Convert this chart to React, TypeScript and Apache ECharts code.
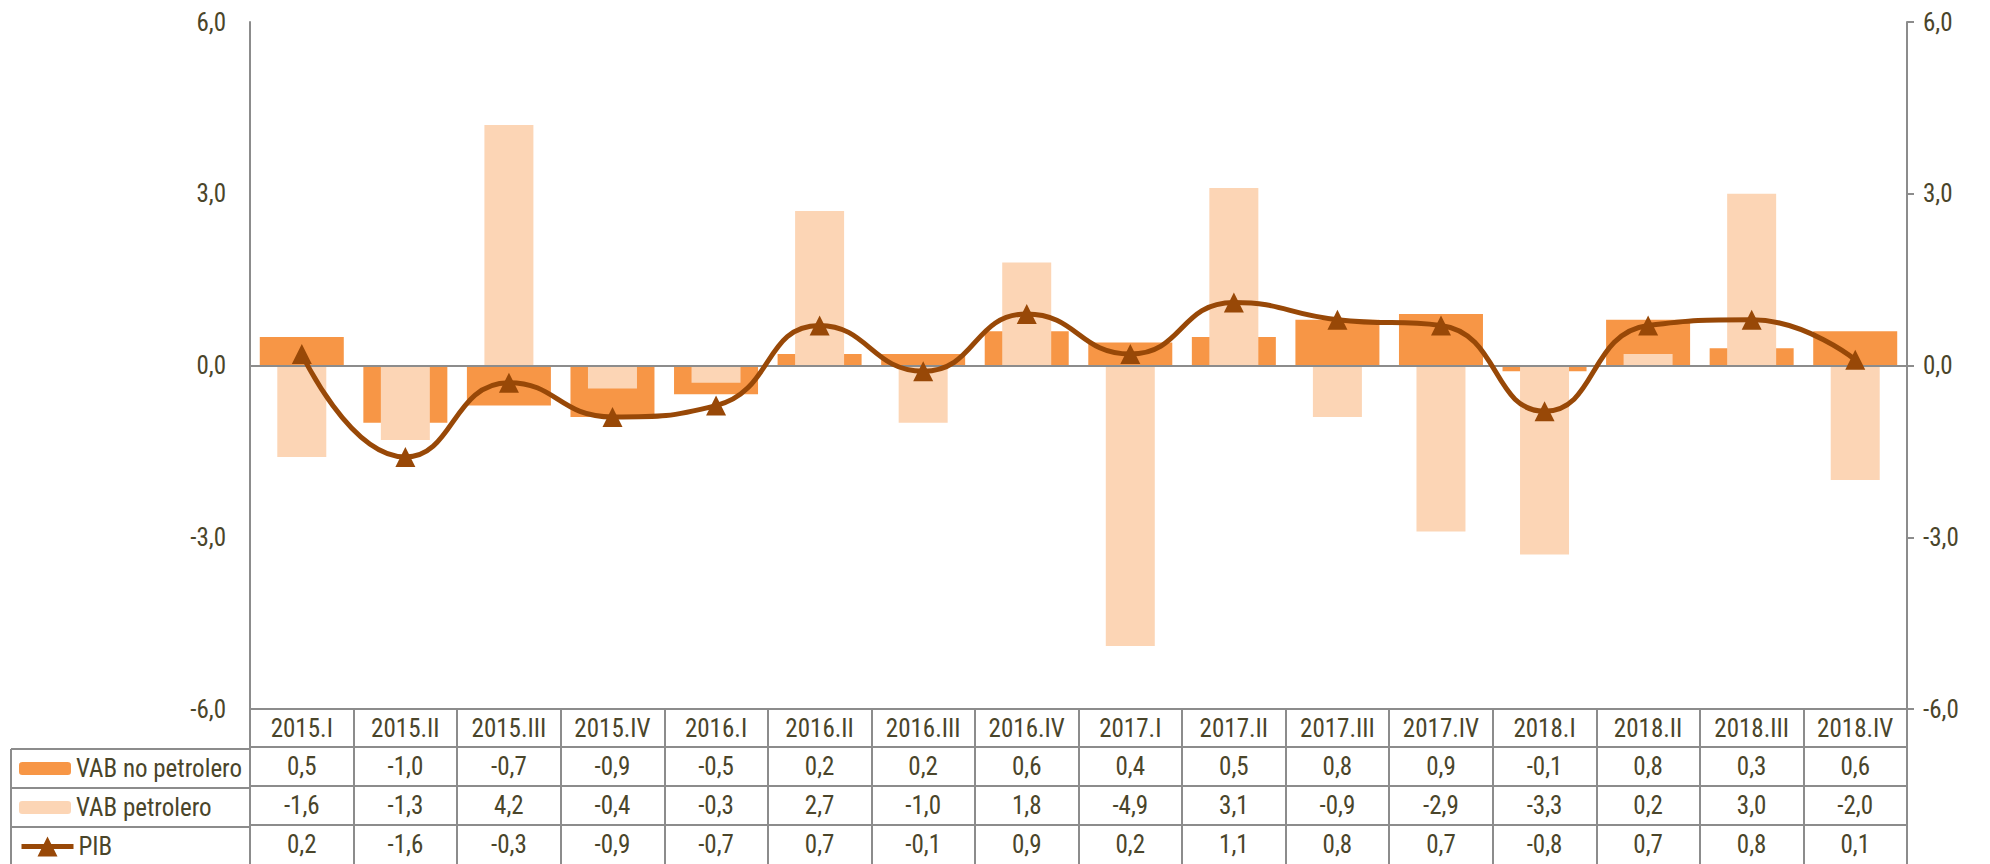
import React, { useEffect, useRef } from "react";
import * as echarts from "echarts";

const categories = [
  "2015.I", "2015.II", "2015.III", "2015.IV",
  "2016.I", "2016.II", "2016.III", "2016.IV",
  "2017.I", "2017.II", "2017.III", "2017.IV",
  "2018.I", "2018.II", "2018.III", "2018.IV",
];
const vabNoPetrolero = [0.5, -1.0, -0.7, -0.9, -0.5, 0.2, 0.2, 0.6, 0.4, 0.5, 0.8, 0.9, -0.1, 0.8, 0.3, 0.6];
const vabPetrolero = [-1.6, -1.3, 4.2, -0.4, -0.3, 2.7, -1.0, 1.8, -4.9, 3.1, -0.9, -2.9, -3.3, 0.2, 3.0, -2.0];
const pib = [0.2, -1.6, -0.3, -0.9, -0.7, 0.7, -0.1, 0.9, 0.2, 1.1, 0.8, 0.7, -0.8, 0.7, 0.8, 0.1];
const seriesNames = ["VAB no petrolero", "VAB petrolero", "PIB"];
const yTicks = { min: -6, max: 6, interval: 3 };

const W = 1990;
const H = 864;
const GRID_LEFT = 250;
const GRID_RIGHT = 83;
const GRID_TOP = 22;
const GRID_BOTTOM = 153;
const HEADER_H = 38;
const ROW_H = 39;
const TABLE_LEFT = 11;
const FONT = "'Liberation Sans Narrow', 'Arial Narrow', 'Roboto Condensed', 'Liberation Sans', sans-serif";
const TEXT = "#4A452A";
const GRAY = "#8c8c8c";
const C_DARK = "#F79646";
const C_LIGHT = "#FCD5B5";
const C_LINE = "#984807";
const FS = 25;

const fmt = (v: number) => v.toFixed(1).replace(".", ",");

export default function App() {
  const ref = useRef<HTMLDivElement>(null);
  useEffect(() => {
    if (!ref.current) return;
    const chart = echarts.init(ref.current, undefined, { renderer: "svg" });
    const plotBottom = H - GRID_BOTTOM;
    const rowTop = (r: number) => (r === 0 ? plotBottom : plotBottom + HEADER_H + ROW_H * (r - 1));

    const tableAxis = (data: string[], r: number) => {
      const h = r === 0 ? HEADER_H : ROW_H;
      return {
        type: "category",
        gridIndex: 0,
        position: "bottom",
        offset: rowTop(r) - plotBottom,
        data,
        boundaryGap: true,
        axisLine: { show: true, onZero: false, lineStyle: { color: GRAY, width: 2 } },
        axisTick: { show: true, length: h, interval: 0, alignWithLabel: false, lineStyle: { color: GRAY, width: 2 } },
        axisLabel: {
          show: true, interval: 0, margin: 0, color: TEXT, fontFamily: FONT, fontSize: FS,
          lineHeight: h, verticalAlign: "top",
        },
        splitLine: { show: false },
      };
    };

    const legendRow = (name: string, r: number, itemHeight: number, extra: any = {}) => ({
      orient: "horizontal",
      left: TABLE_LEFT + 8,
      top: rowTop(r),
      padding: 0,
      data: [name],
      itemWidth: 52,
      itemHeight,
      itemGap: 0,
      selectedMode: false,
      textStyle: { color: TEXT, fontFamily: FONT, fontSize: FS, lineHeight: ROW_H },
      ...extra,
    });

    const lines: any[] = [];
    for (let r = 1; r <= 3; r++) {
      const y = rowTop(r);
      lines.push({
        type: "line",
        shape: { x1: TABLE_LEFT, y1: y, x2: GRID_LEFT, y2: y },
        style: { stroke: GRAY, lineWidth: 2 },
      });
    }
    lines.push({
      type: "line",
      shape: { x1: TABLE_LEFT, y1: rowTop(1), x2: TABLE_LEFT, y2: H },
      style: { stroke: GRAY, lineWidth: 2 },
    });

    const yAxisBase = {
      type: "value",
      min: yTicks.min,
      max: yTicks.max,
      interval: yTicks.interval,
      splitLine: { show: false },
      axisLine: { show: true, lineStyle: { color: GRAY, width: 2 } },
      axisLabel: { color: TEXT, fontFamily: FONT, fontSize: FS, formatter: (v: number) => fmt(v) },
    };

    chart.setOption({
      animation: false,
      backgroundColor: "#ffffff",
      grid: { left: GRID_LEFT, right: GRID_RIGHT, top: GRID_TOP, bottom: GRID_BOTTOM, containLabel: false },
      legend: [
        legendRow(seriesNames[0], 1, 13),
        legendRow(seriesNames[1], 2, 13),
        legendRow(seriesNames[2], 3, 25, { lineStyle: { width: 5, color: C_LINE } }),
      ],
      xAxis: [
        {
          type: "category",
          data: categories,
          position: "bottom",
          z: 3,
          axisLine: { show: true, onZero: true, onZeroAxisIndex: 0, lineStyle: { color: GRAY, width: 2 } },
          axisTick: { show: false },
          axisLabel: { show: false },
        },
        {
          type: "category",
          data: categories,
          show: false,
        },
        tableAxis(categories, 0),
        tableAxis(vabNoPetrolero.map(fmt), 1),
        tableAxis(vabPetrolero.map(fmt), 2),
        tableAxis(pib.map(fmt), 3),
      ],
      yAxis: [
        { ...yAxisBase, position: "left", axisTick: { show: false }, axisLabel: { ...yAxisBase.axisLabel, margin: 24 } },
        {
          ...yAxisBase,
          position: "right",
          axisTick: { show: true, length: 7, lineStyle: { color: GRAY, width: 2 } },
          axisLabel: { ...yAxisBase.axisLabel, margin: 16 },
        },
      ],
      series: [
        {
          name: seriesNames[0],
          type: "bar",
          xAxisIndex: 0,
          yAxisIndex: 0,
          data: vabNoPetrolero,
          barWidth: 84,
          itemStyle: { color: C_DARK },
          z: 2,
        },
        {
          name: seriesNames[1],
          type: "bar",
          xAxisIndex: 1,
          yAxisIndex: 0,
          data: vabPetrolero,
          barWidth: 49,
          itemStyle: { color: C_LIGHT },
          z: 2,
        },
        {
          name: seriesNames[2],
          type: "line",
          xAxisIndex: 0,
          yAxisIndex: 0,
          data: pib,
          smooth: 0.5,
          symbol: "triangle",
          symbolSize: 20,
          lineStyle: { color: C_LINE, width: 5 },
          itemStyle: { color: C_LINE },
          z: 5,
        },
      ],
      graphic: lines,
    });
    return () => chart.dispose();
  }, []);
  return (
    <div
      ref={ref}
      style={{ position: "absolute", left: 0, top: 0, width: W, height: H, background: "#fff" }}
    />
  );
}
